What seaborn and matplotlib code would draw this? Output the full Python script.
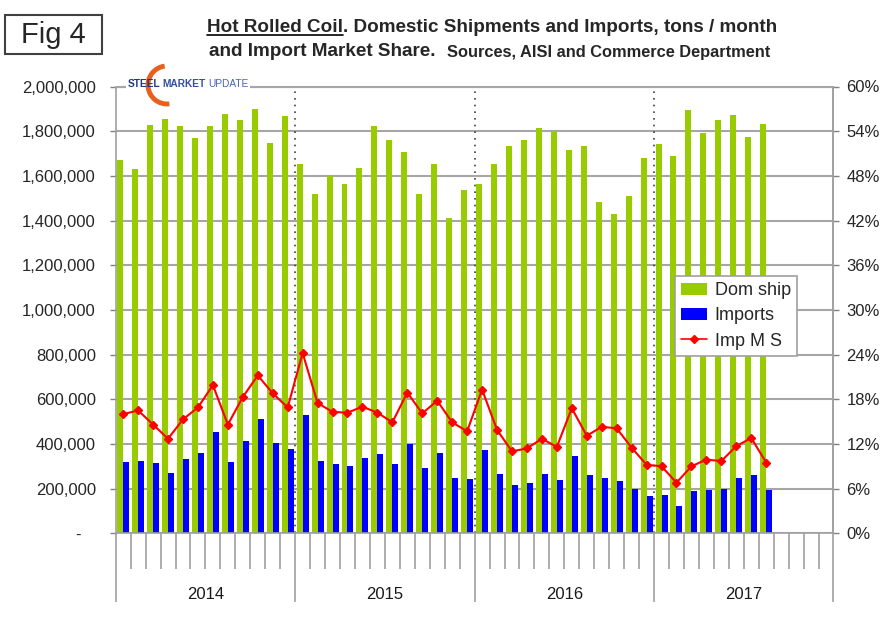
import numpy as np
import pandas as pd
import matplotlib
matplotlib.use("Agg")
import matplotlib.pyplot as plt
import seaborn as sns
from matplotlib.patches import Patch, Rectangle, Arc
from matplotlib.lines import Line2D
from matplotlib.ticker import FuncFormatter, MultipleLocator

# ---- data ----
years = [2014, 2015, 2016, 2017]
months = [f"{y}-{m:02d}" for y in years for m in range(1, 13)]

dom_ship = [
    1670000, 1630000, 1826000, 1854000, 1823000, 1769000, 1821000, 1878000, 1851000, 1900000, 1748000, 1867000,
    1654000, 1520000, 1599000, 1562000, 1636000, 1824000, 1759000, 1705000, 1520000, 1653000, 1411000, 1536000,
    1562000, 1654000, 1732000, 1759000, 1815000, 1800000, 1714000, 1735000, 1484000, 1428000, 1511000, 1680000,
    1744000, 1690000, 1893000, 1793000, 1851000, 1872000, 1773000, 1832000,
]
imports = [
    319000, 323000, 313000, 271000, 331000, 361000, 455000, 320000, 414000, 511000, 402000, 377000,
    528000, 322000, 311000, 300000, 335000, 353000, 308000, 398000, 291000, 358000, 247000, 244000,
    373000, 264000, 215000, 227000, 265000, 237000, 346000, 261000, 247000, 234000, 200000, 168000,
    173000, 124000, 188000, 195000, 197000, 249000, 259000, 192000,
]
imp_ms = [
    16.0, 16.5, 14.6, 12.7, 15.3, 16.9, 19.9, 14.6, 18.3, 21.2, 18.8, 16.9,
    24.2, 17.5, 16.3, 16.2, 17.0, 16.2, 14.9, 18.9, 16.1, 17.8, 14.9, 13.7,
    19.3, 13.9, 11.0, 11.4, 12.7, 11.6, 16.8, 13.1, 14.3, 14.1, 11.5, 9.2,
    9.0, 6.8, 9.0, 9.9, 9.7, 11.7, 12.8, 9.5,
]

n = len(dom_ship)
df = pd.DataFrame({
    "month": months[:n] * 2,
    "tons": dom_ship + imports,
    "series": ["Dom ship"] * n + ["Imports"] * n,
})

GREEN = "#99cc00"
BLUE = "#0000ff"
RED = "#ff0000"
GRID = "#a6a6a6"
FONT = ["Liberation Sans", "DejaVu Sans"]
NARROW = ["Liberation Sans Narrow", "Liberation Sans", "DejaVu Sans"]

sns.set_style("white")
plt.rcParams["font.family"] = FONT

W, H = 887, 622
fig = plt.figure(figsize=(W / 100, H / 100), dpi=100)
ax = fig.add_axes([115.7 / W, 1 - 533.3 / H, (833.5 - 115.7) / W, (533.3 - 86.5) / H])

sns.barplot(data=df, x="month", y="tons", hue="series", order=months,
            palette=[GREEN, BLUE], saturation=1, width=0.8, linewidth=0,
            ax=ax, legend=False)
ax.set_xlim(-0.5, len(months) - 0.5)
ax.set_ylim(0, 2000000)
ax.set_xlabel("")
ax.set_ylabel("")

# horizontal grid
ax.yaxis.set_major_locator(MultipleLocator(200000))
ax.yaxis.grid(True, color=GRID, lw=1.5)
ax.set_axisbelow(True)
ax.yaxis.set_major_formatter(FuncFormatter(lambda v, p: "-   " if v == 0 else f"{int(v):,}"))
ax.tick_params(axis="y", direction="out", length=4.3, width=1, color="#808080",
               labelsize=12, pad=10, left=True)

# year separators
for b in [11.5, 23.5, 35.5]:
    ax.axvline(b, color="#404040", lw=1.2, ls=(0, (1, 3)), zorder=1)

# x axis: long ticks at year boundaries, shorter at months
year_bounds = np.arange(-0.5, len(months), 12)
month_bounds = [b for b in np.arange(-0.5, len(months), 1) if b not in year_bounds]
ax.set_xticks(year_bounds)
ax.set_xticks(month_bounds, minor=True)
ax.tick_params(axis="x", which="major", direction="out", length=50, width=1.2,
               color="#a0a0a0", labelbottom=False, bottom=True)
ax.tick_params(axis="x", which="minor", direction="out", length=26, width=1.2,
               color="#a0a0a0", labelbottom=False, bottom=True)
for i, y in enumerate(years):
    ax.annotate(str(y), xy=(i * 12 + 5.5, 0), xycoords=("data", "axes fraction"),
                xytext=(0, -44), textcoords="offset points",
                ha="center", va="center", fontsize=12, color="#1a1a1a")

for s in ["left", "bottom", "top", "right"]:
    ax.spines[s].set_color("#a0a0a0")
    ax.spines[s].set_linewidth(1.2)
ax.spines["top"].set_color(GRID)
ax.spines["top"].set_linewidth(1.5)

# market share line on right axis
ax2 = ax.twinx()
ax2.plot(np.arange(n), imp_ms, color=RED, lw=1.5, marker="D", ms=4.5, zorder=5)
ax2.set_ylim(0, 60)
ax2.yaxis.set_major_locator(MultipleLocator(6))
ax2.yaxis.set_major_formatter(FuncFormatter(lambda v, p: f"{v:.0f}%"))
ax2.tick_params(axis="y", direction="out", length=4.3, width=1, color="#808080",
                labelsize=12, pad=5)
ax2.grid(False)
for s in ["left", "bottom", "top"]:
    ax2.spines[s].set_visible(False)
ax2.spines["right"].set_color("#a0a0a0")
ax2.spines["right"].set_linewidth(1.2)

# legend
handles = [
    Patch(facecolor=GREEN, edgecolor="none", label="Dom ship"),
    Patch(facecolor=BLUE, edgecolor="none", label="Imports"),
    Line2D([], [], color=RED, lw=1.2, marker="D", ms=4, label="Imp M S"),
]
leg = ax2.legend(handles=handles, loc="upper left", bbox_to_anchor=(675 / W, 1 - 276 / H),
                 bbox_transform=fig.transFigure, fontsize=13, frameon=True, fancybox=False,
                 edgecolor="#a0a0a0", framealpha=1, borderaxespad=0, borderpad=0.35,
                 handlelength=1.45, handleheight=0.7, handletextpad=0.4, labelspacing=0.45)
leg.get_frame().set_linewidth(1.2)

# ---- titles ----
renderer = fig.canvas.get_renderer()


def put(x_px, y_px, s, **kw):
    t = fig.text(x_px / W, 1 - y_px / H, s, ha="left", va="center", **kw)
    return t, t.get_window_extent(renderer)


def fitted_size(s, width_px, **kw):
    t = fig.text(0, 0, s, fontsize=10, **kw)
    w = t.get_window_extent(renderer).width
    t.remove()
    return 10 * width_px / w


part1 = "Hot Rolled Coil"
part2 = ". Domestic Shipments and Imports, tons / month"
fs1 = fitted_size(part1 + part2, 775 - 207, fontweight="bold")
t, bb = put(207, 27, part1, fontsize=fs1, fontweight="bold")
fig.add_artist(Line2D([bb.x0 / W, bb.x1 / W], [(bb.y0 + 1) / H] * 2, color="black", lw=1.2))
put(bb.x1, 27, part2, fontsize=fs1, fontweight="bold")
t, bb = put(209, 51, "and Import Market Share.", fontsize=fs1, fontweight="bold")
src = "Sources, AISI and Commerce Department"
fs2 = fitted_size(src, 771 - 447, fontweight="bold", family=NARROW)
put(447, 52, src, fontsize=fs2, fontweight="bold", family=NARROW)

# Fig 4 box
fig.add_artist(Rectangle((5 / W, 1 - 54 / H), 97 / W, 39 / H, transform=fig.transFigure,
                         facecolor="white", edgecolor="#404040", lw=1.5))
fig.text(53.5 / W, 1 - 35 / H, "Fig 4", ha="center", va="center", fontsize=21)

# logo
fig.add_artist(Rectangle((126 / W, 1 - 90 / H), 124 / W, 12 / H, transform=fig.transFigure,
                         facecolor="white", edgecolor="none", zorder=3))
fig.add_artist(Arc((167 / W, 1 - 85 / H), 38 / W, 38 / H, theta1=95, theta2=275,
                   transform=fig.transFigure, color="#e8601c", lw=3.5, zorder=4))
t, bb = put(128, 84, "STEEL", fontsize=7.3, fontweight="bold", color="#1f3a7a", zorder=5)
t, bb = put(bb.x1 + 2, 84, "MARKET", fontsize=7.3, fontweight="bold", color="#3550a0", zorder=5)
put(bb.x1 + 2, 84, "UPDATE", fontsize=7.3, color="#4a64b0", zorder=5)

fig.savefig("out.png", dpi=100, facecolor="white")
